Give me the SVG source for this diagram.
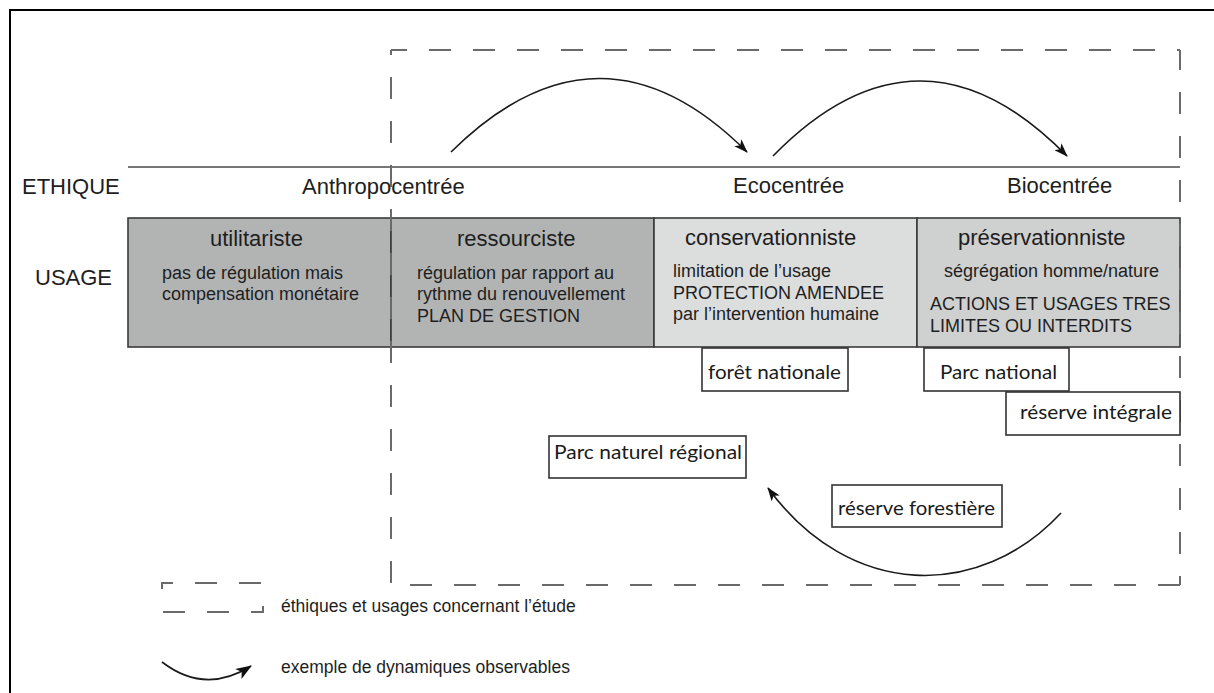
<svg xmlns="http://www.w3.org/2000/svg" width="1214" height="693" viewBox="0 0 1214 693">
<defs>
<marker id="ah" viewBox="0 0 14 10" refX="13" refY="5" markerWidth="14" markerHeight="10" markerUnits="userSpaceOnUse" orient="auto">
<path d="M0,0 L14,5 L0,10 L3.5,5 z" fill="#111"/>
</marker>
<marker id="ahl" viewBox="0 0 16 12" refX="15" refY="6" markerWidth="16" markerHeight="12" markerUnits="userSpaceOnUse" orient="auto">
<path d="M0,0 L16,6 L0,12 L4,6 z" fill="#111"/>
</marker>
<style>
.t{font-family:"Liberation Sans",Arial,sans-serif;fill:#1e1e1e}
.h{font-size:22px}
.b{font-size:18px}
.dash{stroke:#6a6a6a;stroke-width:2;fill:none;stroke-dasharray:22 22}
.cell{stroke:#3a3a3a;stroke-width:1.6}
.box{fill:#fff;stroke:#333;stroke-width:1.6}
.bl{font-family:Lato,"Open Sans",sans-serif;font-size:19px;fill:#1a1a1a}
.arc{fill:none;stroke:#1a1a1a;stroke-width:1.6}
</style>
</defs>
<rect width="1214" height="693" fill="#fff"/>
<rect x="10" y="10" width="1230" height="720" fill="none" stroke="#000" stroke-width="2"/>

<g id="ethique-row">
<line x1="128" y1="167" x2="1180" y2="167" stroke="#4a4a4a" stroke-width="1.6"/>
<text class="t h" x="22" y="194">ETHIQUE</text>
<text class="t h" x="302" y="194">Anthropocentrée</text>
<text class="t h" x="733" y="193">Ecocentrée</text>
<text class="t h" x="1007" y="193">Biocentrée</text>
</g>

<g id="usage-label"><text class="t h" x="35" y="285">USAGE</text></g>

<g id="utilitariste">
<rect class="cell" x="128" y="218" width="263" height="129" fill="#b2b4b4"/>
<text class="t h" x="210" y="246">utilitariste</text>
<text class="t b" x="162" y="279">pas de régulation mais</text>
<text class="t b" x="162" y="300">compensation monétaire</text>
</g>
<g id="ressourciste">
<rect class="cell" x="391" y="218" width="263" height="129" fill="#b2b4b4"/>
<text class="t h" x="457" y="246">ressourciste</text>
<text class="t b" x="417" y="279">régulation par rapport au</text>
<text class="t b" x="417" y="300">rythme du renouvellement</text>
<text class="t b" x="417" y="322">PLAN DE GESTION</text>
</g>
<g id="conservationniste">
<rect class="cell" x="654" y="218" width="263" height="129" fill="#dcdddd"/>
<text class="t h" x="685" y="245">conservationniste</text>
<text class="t b" x="673" y="277">limitation de l’usage</text>
<text class="t b" x="673" y="299">PROTECTION AMENDEE</text>
<text class="t b" x="673" y="320">par l’intervention humaine</text>
</g>
<g id="preservationniste">
<rect class="cell" x="917" y="218" width="263" height="129" fill="#cfd0d0"/>
<text class="t h" x="958" y="245">préservationniste</text>
<text class="t b" x="944" y="277">ségrégation homme/nature</text>
<text class="t b" x="930" y="310">ACTIONS ET USAGES TRES</text>
<text class="t b" x="930" y="332">LIMITES OU INTERDITS</text>
</g>

<g id="zone-etude">
<line class="dash" x1="391" y1="50" x2="1180" y2="50" stroke-dashoffset="6"/>
<line class="dash" x1="1180" y1="50" x2="1180" y2="585" stroke-dashoffset="2"/>
<line class="dash" x1="1180" y1="585" x2="391" y2="585"/>
<line class="dash" x1="391" y1="50" x2="391" y2="585" stroke-dashoffset="17"/>
</g>

<g id="foret-nationale">
<rect class="box" x="702" y="348" width="146" height="43"/>
<text class="bl" x="708" y="379" textLength="133" lengthAdjust="spacingAndGlyphs">forêt nationale</text>
</g>
<g id="parc-national">
<rect class="box" x="924" y="348" width="145" height="43"/>
<text class="bl" x="940" y="379" textLength="117" lengthAdjust="spacingAndGlyphs">Parc national</text>
</g>
<g id="reserve-integrale">
<rect class="box" x="1006" y="392" width="174" height="43"/>
<text class="bl" x="1020" y="419" textLength="152" lengthAdjust="spacingAndGlyphs">réserve intégrale</text>
</g>
<g id="parc-naturel-regional">
<rect class="box" x="549" y="436" width="197" height="42"/>
<text class="bl" x="554" y="459" textLength="188" lengthAdjust="spacingAndGlyphs">Parc naturel régional</text>
</g>
<g id="reserve-forestiere">
<rect class="box" x="832" y="485" width="170" height="42"/>
<text class="bl" x="838" y="515" textLength="157" lengthAdjust="spacingAndGlyphs">réserve forestière</text>
</g>

<g id="connectors">
<path class="arc" d="M451,152 Q600,5 747,152" marker-end="url(#ah)"/>
<path class="arc" d="M773,156 Q920,6 1067,156" marker-end="url(#ah)"/>
<path class="arc" d="M1061,513 C980,600 850,600 768,488" marker-end="url(#ah)"/>
</g>

<g id="legend">
<line class="dash" x1="162" y1="583" x2="263" y2="583" stroke-dashoffset="11"/>
<line class="dash" x1="163" y1="612" x2="263" y2="612"/>
<line x1="162" y1="582" x2="162" y2="589" stroke="#6a6a6a" stroke-width="2"/>
<line x1="263" y1="606" x2="263" y2="613" stroke="#6a6a6a" stroke-width="2"/>
<text class="t" font-size="17.5" x="281" y="612">éthiques et usages concernant l’étude</text>
<path class="arc" d="M162,662 Q205,695 251,666" stroke-width="2" marker-end="url(#ahl)"/>
<text class="t" font-size="17.5" x="281" y="673">exemple de dynamiques observables</text>
</g>
</svg>
